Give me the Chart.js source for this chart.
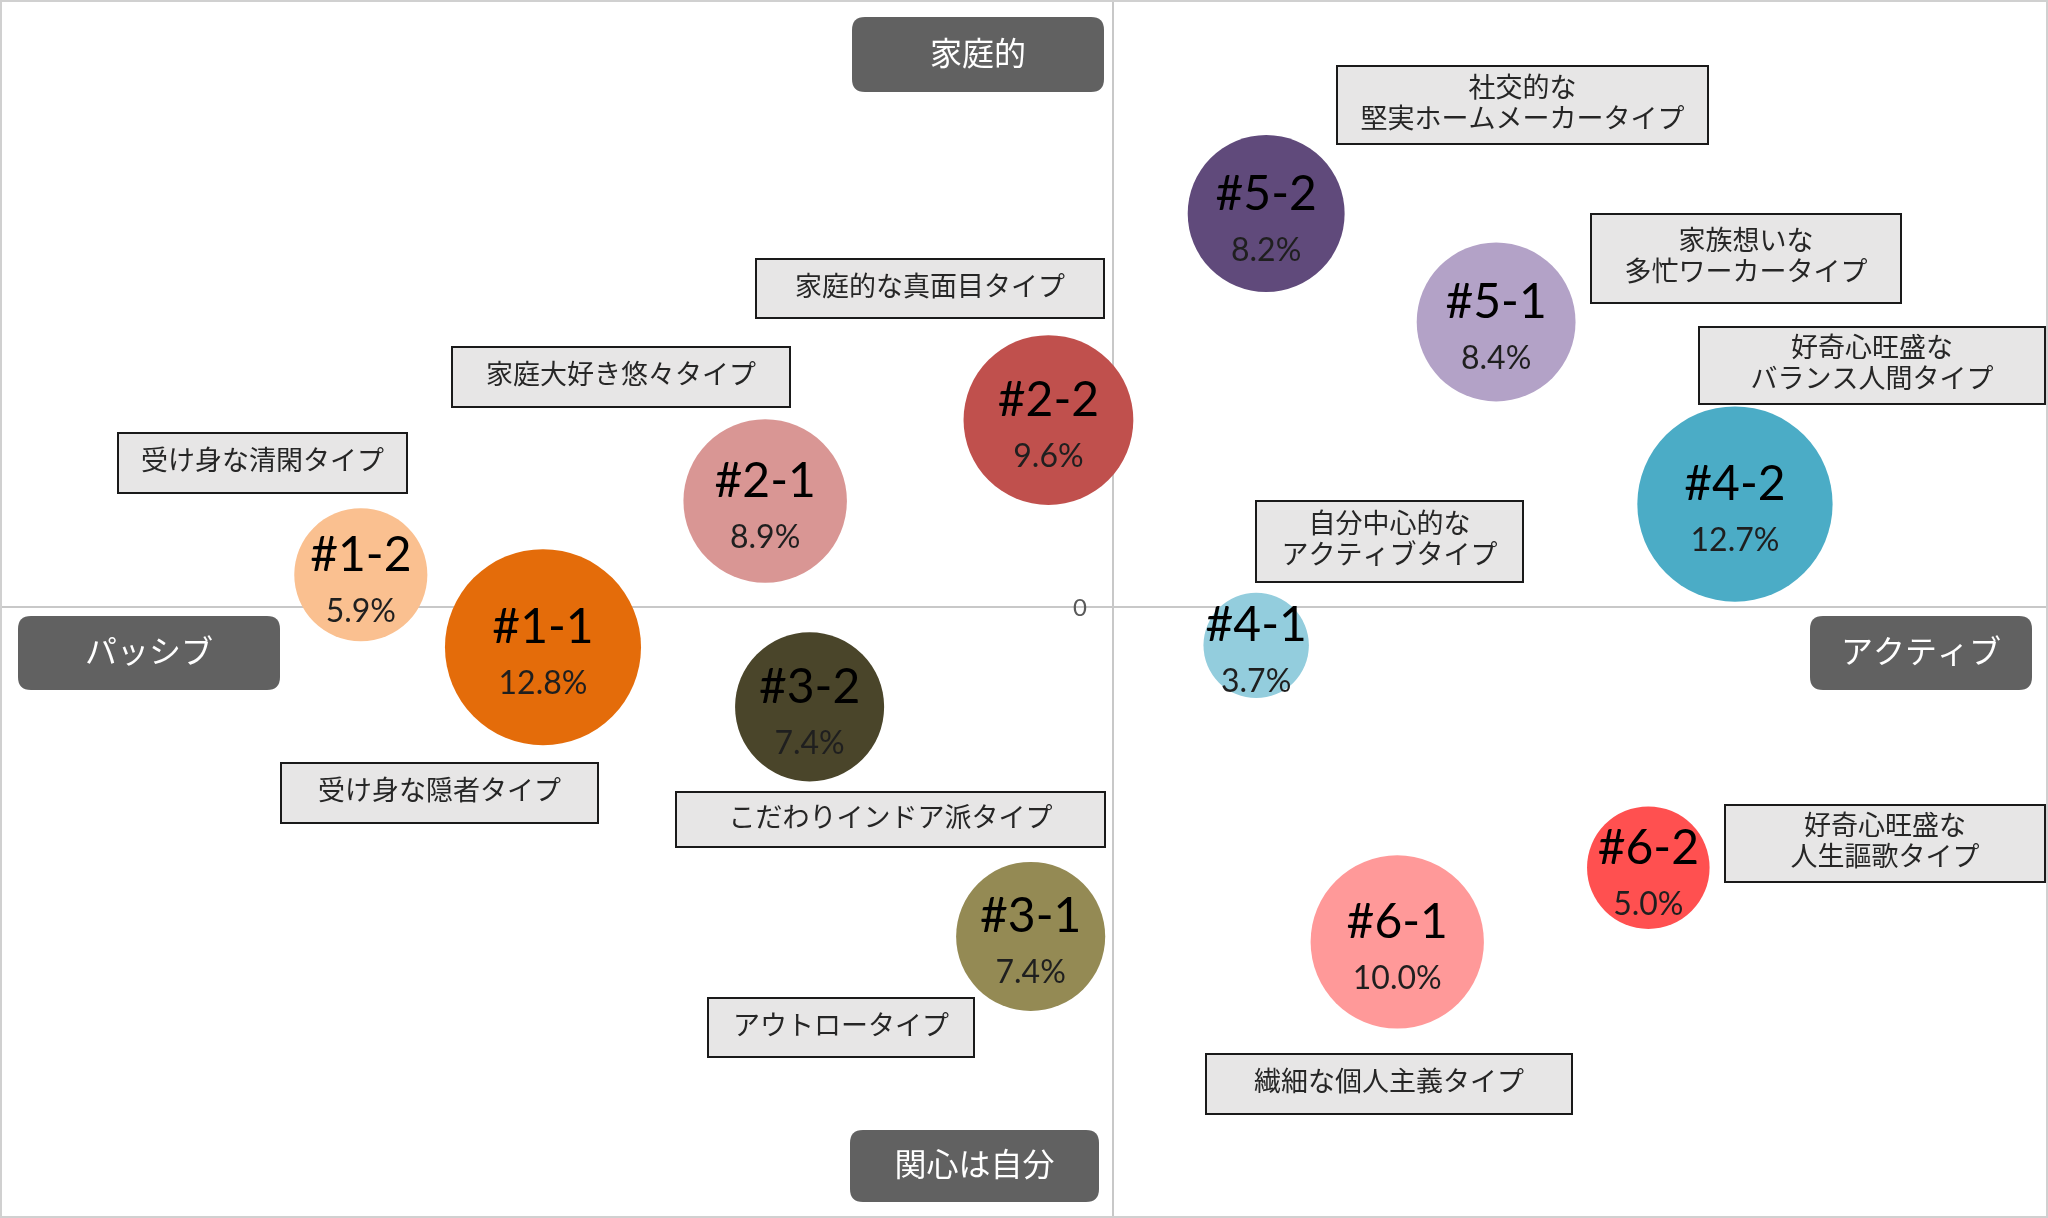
<!DOCTYPE html>
<html lang="ja">
<head>
<meta charset="utf-8">
<title>クラスター ポジショニングマップ</title>
<script src="https://cdn.jsdelivr.net/npm/chart.js@4.4.1/dist/chart.umd.min.js"></script>
<style>
  html, body { margin: 0; padding: 0; background: #fff; }
  #wrap { width: 2048px; height: 1218px; }
</style>
</head>
<body>
<div id="wrap"><canvas id="mapa" width="2048" height="1218"></canvas></div>
<script>
const clusters = ["#1-1", "#1-2", "#2-1", "#2-2", "#3-1", "#3-2", "#4-1", "#4-2", "#5-1", "#5-2", "#6-1", "#6-2"];
const activeScore = [-0.513, -0.677, -0.313, -0.058, -0.074, -0.273, 0.129, 0.560, 0.345, 0.138, 0.256, 0.482];
const familyScore = [-0.066, 0.053, 0.174, 0.307, -0.541, -0.164, -0.063, 0.169, 0.468, 0.646, -0.550, -0.428];
const shares = [12.8, 5.9, 8.9, 9.6, 7.4, 7.4, 3.7, 12.7, 8.4, 8.2, 10.0, 5.0];
const typeNames = [
  ["受け身な隠者タイプ"],
  ["受け身な清閑タイプ"],
  ["家庭大好き悠々タイプ"],
  ["家庭的な真面目タイプ"],
  ["アウトロータイプ"],
  ["こだわりインドア派タイプ"],
  ["自分中心的な", "アクティブタイプ"],
  ["好奇心旺盛な", "バランス人間タイプ"],
  ["家族想いな", "多忙ワーカータイプ"],
  ["社交的な", "堅実ホームメーカータイプ"],
  ["繊細な個人主義タイプ"],
  ["好奇心旺盛な", "人生謳歌タイプ"]
];
const axisNames = ["家庭的", "関心は自分", "パッシブ", "アクティブ"];

// estilos y posiciones de las cajas
const clusterColors = ["#E46C0A", "#FAC090", "#D99694", "#C0504D", "#948A54", "#4A452A",
  "#93CDDD", "#4BACC6", "#B3A2C7", "#604A7B", "#FF9999", "#FF5050"];
const typeBoxes = [
  [281, 763, 317, 60], [118, 433, 289, 60], [452, 347, 338, 60], [756, 259, 348, 59],
  [708, 998, 266, 59], [676, 792, 429, 55], [1256, 501, 267, 81], [1699, 327, 346, 77],
  [1591, 214, 310, 89], [1337, 66, 371, 78], [1206, 1054, 366, 60], [1725, 805, 320, 77]
];
const axisBoxes = [[852, 17, 252, 75], [850, 1130, 249, 72], [18, 616, 262, 74], [1810, 616, 222, 74]];
const bubbleScale = 27.4;

function caja(ctx, x, y, w, h, r) {
  ctx.beginPath();
  ctx.moveTo(x + r, y);
  ctx.lineTo(x + w - r, y);
  ctx.quadraticCurveTo(x + w, y, x + w, y + r);
  ctx.lineTo(x + w, y + h - r);
  ctx.quadraticCurveTo(x + w, y + h, x + w - r, y + h);
  ctx.lineTo(x + r, y + h);
  ctx.quadraticCurveTo(x, y + h, x, y + h - r);
  ctx.lineTo(x, y + r);
  ctx.quadraticCurveTo(x, y, x + r, y);
  ctx.closePath();
}

const etiquetas = {
  id: "etiquetas",
  beforeDraw(chart) {
    const ctx = chart.ctx;
    ctx.save();
    ctx.strokeStyle = "#d0d0d0";
    ctx.lineWidth = 2;
    ctx.strokeRect(1, 1, chart.width - 2, chart.height - 2);
    ctx.restore();
  },
  afterDatasetsDraw(chart) {
    const ctx = chart.ctx;
    const xs = chart.scales.x;
    const ys = chart.scales.y;
    ctx.save();

    // "0" junto al cruce de ejes
    ctx.fillStyle = "#595959";
    ctx.font = "24px Lato";
    ctx.textAlign = "right";
    ctx.textBaseline = "middle";
    ctx.fillText("0", xs.getPixelForValue(0) - 26, ys.getPixelForValue(0) + 1);

    // texto dentro de cada burbuja
    const meta = chart.getDatasetMeta(0);
    ctx.textAlign = "center";
    ctx.textBaseline = "alphabetic";
    meta.data.forEach((el, i) => {
      ctx.fillStyle = "#000";
      ctx.font = "48px Lato";
      ctx.fillText(clusters[i], el.x, el.y - 4);
      ctx.fillStyle = "#1f1f1f";
      ctx.font = "32px Lato";
      ctx.fillText(shares[i].toFixed(1) + "%", el.x, el.y + 47);
    });

    // cajas con el nombre de cada tipo
    ctx.textBaseline = "middle";
    ctx.font = "27px 'Noto Sans CJK JP'";
    typeBoxes.forEach(([x, y, w, h], i) => {
      ctx.fillStyle = "#e7e6e6";
      ctx.fillRect(x, y, w, h);
      ctx.strokeStyle = "#1a1a1a";
      ctx.lineWidth = 2;
      ctx.strokeRect(x, y, w, h);
      ctx.fillStyle = "#262626";
      const lines = typeNames[i];
      const lh = 31;
      const y0 = y + h / 2 - 3 - (lines.length - 1) * lh / 2;
      lines.forEach((t, j) => ctx.fillText(t, x + w / 2, y0 + j * lh));
    });

    // etiquetas de los ejes
    ctx.font = "32px 'Noto Sans CJK JP'";
    axisBoxes.forEach(([x, y, w, h], i) => {
      ctx.fillStyle = "#616161";
      caja(ctx, x, y, w, h, 13);
      ctx.fill();
      ctx.fillStyle = "#fff";
      ctx.fillText(axisNames[i], x + w / 2, y + h / 2 - 2);
    });
    ctx.restore();
  }
};

const puntos = clusters.map((c, i) => ({
  x: activeScore[i],
  y: familyScore[i],
  r: bubbleScale * Math.sqrt(shares[i])
}));

const lineaCero = (ctx) => (ctx.tick && ctx.tick.value === 0 ? "#c8c8c8" : "rgba(0,0,0,0)");

new Chart(document.getElementById("mapa"), {
  type: "bubble",
  data: {
    datasets: [{
      label: "クラスター",
      data: puntos,
      backgroundColor: clusterColors,
      borderWidth: 0,
      hoverBorderWidth: 0
    }]
  },
  options: {
    responsive: false,
    animation: false,
    devicePixelRatio: 1,
    layout: { autoPadding: false, padding: 2 },
    plugins: { legend: { display: false }, tooltip: { enabled: false } },
    scales: {
      x: {
        type: "linear", min: -1, max: 0.84,
        border: { display: false },
        ticks: { display: false },
        grid: { drawTicks: false, lineWidth: 2, color: lineaCero }
      },
      y: {
        type: "linear", min: -1, max: 0.9934,
        border: { display: false },
        ticks: { display: false },
        grid: { drawTicks: false, lineWidth: 2, color: lineaCero }
      }
    }
  },
  plugins: [etiquetas]
});
</script>
</body>
</html>
